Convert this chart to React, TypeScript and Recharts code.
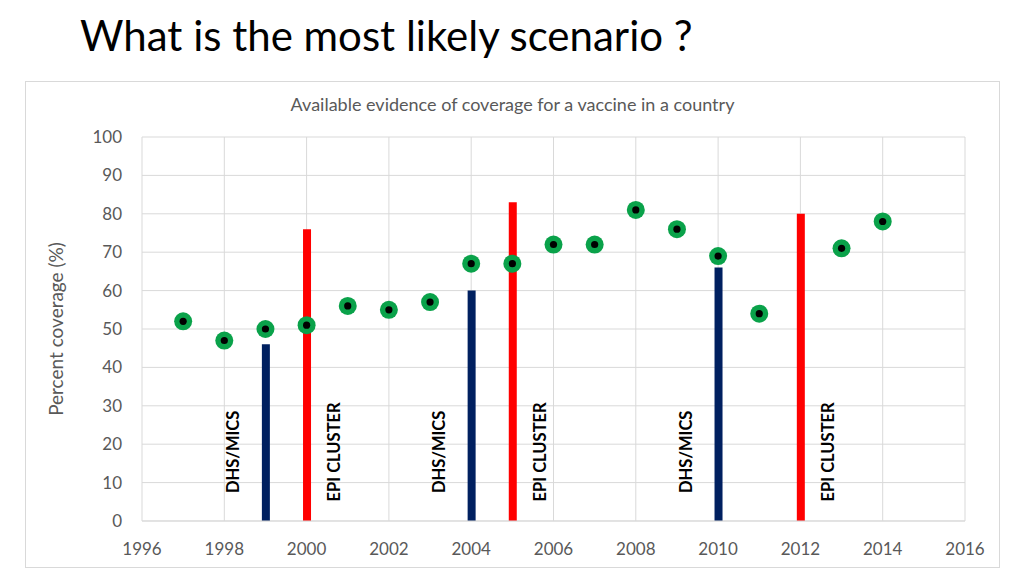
import React from 'react'
import { ComposedChart, Bar, Cell, Scatter, XAxis, YAxis, CartesianGrid, LabelList, Label } from 'recharts'

const coverageYears = [1997, 1998, 1999, 2000, 2001, 2002, 2003, 2004, 2005, 2006, 2007, 2008, 2009, 2010, 2011, 2013, 2014]
const coverageValues = [52, 47, 50, 51, 56, 55, 57, 67, 67, 72, 72, 81, 76, 69, 54, 71, 78]

const surveyYears = [1999, 2000, 2004, 2005, 2010, 2012]
const surveyValues = [46, 76, 60, 83, 66, 80]
const surveyTypes = ['DHS/MICS', 'EPI CLUSTER', 'DHS/MICS', 'EPI CLUSTER', 'DHS/MICS', 'EPI CLUSTER']

const xTicks = [1996, 1998, 2000, 2002, 2004, 2006, 2008, 2010, 2012, 2014, 2016]
const yTicks = [0, 10, 20, 30, 40, 50, 60, 70, 80, 90, 100]

const coverageData = coverageYears.map((year, i) => ({ year, coverage: coverageValues[i] }))
const surveyData = surveyYears.map((year, i) => ({ year, survey: surveyValues[i], type: surveyTypes[i] }))

const typeColor: Record<string, string> = { 'DHS/MICS': '#002060', 'EPI CLUSTER': '#ff0000' }

const font = 'Lato, "Open Sans", sans-serif'
const grey = '#595959'

const Dot = (props: any) => {
	const { cx, cy } = props
	return (
		<g>
			<circle cx={cx} cy={cy} r={9} fill={'#0aa24a'} />
			<circle cx={cx} cy={cy} r={3.6} fill={'#000'} />
		</g>
	)
}

const SurveyLabel = (props: any) => {
	const vb = props.viewBox || props
	const { x, y, width, height } = vb
	const { value, index } = props
	const bottom = y + height
	const cy = bottom - (height * 18) / surveyValues[index]
	const cx = x + width / 2 + (value === 'DHS/MICS' ? -33 : 27)
	return (
		<text
			x={cx}
			y={cy}
			transform={`rotate(-90 ${cx} ${cy})`}
			textAnchor={'middle'}
			dominantBaseline={'central'}
			fontFamily={font}
			fontWeight={700}
			fontSize={16.5}
			fill={'#000'}
		>
			{value}
		</text>
	)
}

export default function App() {
	return (
		<div style={{ position: 'relative', margin: -8, width: 1024, height: 576, background: '#fff', fontFamily: font }}>
			<div
				style={{
					position: 'absolute',
					left: 80,
					top: 10,
					fontSize: 42,
					lineHeight: 1.2,
					color: '#000',
					fontFamily: font,
				}}
			>
				What is the most likely scenario ?
			</div>
			<div
				style={{
					position: 'absolute',
					left: 25,
					top: 81,
					width: 975,
					height: 487,
					border: '1px solid #d9d9d9',
					boxSizing: 'border-box',
				}}
			>
				<div
					style={{
						position: 'absolute',
						left: 0,
						right: 0,
						top: 11,
						textAlign: 'center',
						fontSize: 18,
						color: grey,
						fontFamily: font,
					}}
				>
					Available evidence of coverage for a vaccine in a country
				</div>
				<ComposedChart
					width={973}
					height={485}
					data={surveyData}
					margin={{ top: 55, right: 34, bottom: 15, left: 55 }}
				>
					<CartesianGrid stroke={'#d9d9d9'} />
					<XAxis
						dataKey={'year'}
						type={'number'}
						domain={[1996, 2016]}
						ticks={xTicks}
						interval={0}
						height={31}
						axisLine={{ stroke: '#d9d9d9' }}
						tickLine={false}
						tick={{ fill: grey, fontSize: 17, fontFamily: font }}
						tickMargin={16}
					/>
					<YAxis
						type={'number'}
						domain={[0, 100]}
						ticks={yTicks}
						interval={0}
						width={61}
						axisLine={false}
						tickLine={false}
						tick={{ fill: grey, fontSize: 17, fontFamily: font }}
						tickMargin={14}
					>
						<Label
							value={'Percent coverage (%)'}
							angle={-90}
							position={'insideLeft'}
							offset={-25}
							style={{ fill: grey, fontSize: 19, fontFamily: font, textAnchor: 'middle' }}
						/>
					</YAxis>
					<Bar dataKey={'survey'} barSize={8} isAnimationActive={false}>
						{surveyData.map((d, i) => (
							<Cell key={i} fill={typeColor[d.type]} />
						))}
						<LabelList dataKey={'type'} content={SurveyLabel} />
					</Bar>
					<Scatter data={coverageData} dataKey={'coverage'} shape={Dot} isAnimationActive={false} />
				</ComposedChart>
			</div>
		</div>
	)
}
